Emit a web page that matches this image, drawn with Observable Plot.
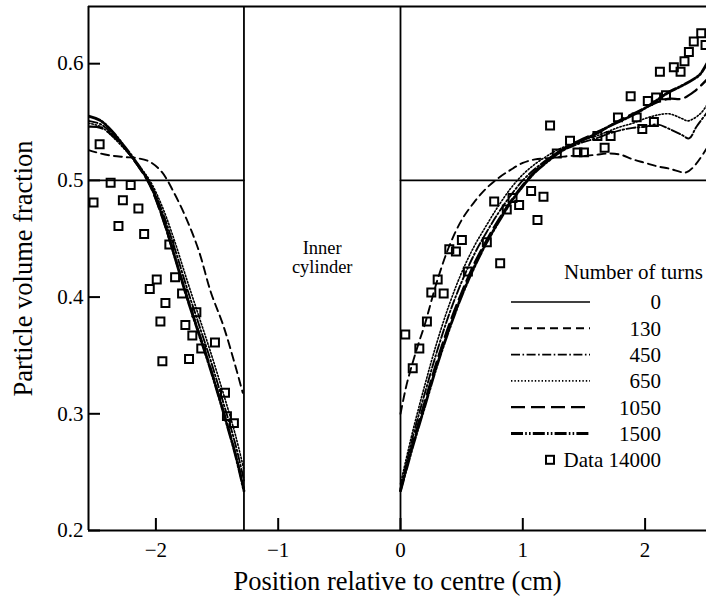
<!DOCTYPE html>
<html><head><meta charset="utf-8">
<script src="https://cdn.jsdelivr.net/npm/d3@7"></script>
<script src="https://cdn.jsdelivr.net/npm/@observablehq/plot@0.6"></script>
<style>
body{margin:0;background:#fff;}
#chart{position:relative;width:706px;height:601px;overflow:hidden;font-family:"Liberation Serif","Times New Roman",serif;}
#legend{position:absolute;left:0;top:0;pointer-events:none;}
</style></head><body><div id="chart"></div>
<script>
// ---- axes ----
const xTicks = [-2, -1, 0, 1, 2];
const xTickLabels = ["−2", "−1", "0", "1", "2"];
const yTicks = [0.2, 0.3, 0.4, 0.5, 0.6];
const yTickLabels = ["0.2", "0.3", "0.4", "0.5", "0.6"];
const xDomain = [-2.551, 2.502];
const yDomain = [0.2, 0.649];
const cylinder = [-1.28, 0];   // inner cylinder wall positions (cm)

// ---- series: number of turns (x cm, volume fraction) ----
const t0Left  = [[-2.551, 0.5], [-1.28, 0.5]];
const t0Right = [[0, 0.5], [2.502, 0.5]];

const t130Left = [[-2.55,0.526],[-2.45,0.523],[-2.35,0.521],[-2.25,0.520],[-2.15,0.519],[-2.05,0.516],[-1.95,0.507],[-1.85,0.489],[-1.75,0.467],[-1.65,0.440],[-1.55,0.404],[-1.45,0.376],[-1.35,0.341],[-1.29,0.318]];
const t130Right = [[0,0.300],[0.05,0.325],[0.1,0.344],[0.15,0.361],[0.2,0.377],[0.3,0.414],[0.4,0.444],[0.5,0.466],[0.6,0.481],[0.7,0.493],[0.8,0.502],[0.9,0.509],[1.0,0.515],[1.1,0.518],[1.2,0.519],[1.3,0.520],[1.4,0.521],[1.5,0.521],[1.6,0.522],[1.7,0.523],[1.8,0.522],[1.9,0.518],[2.0,0.515],[2.1,0.512],[2.2,0.510],[2.3,0.507],[2.34,0.507],[2.4,0.512],[2.52,0.530]];

const t450Left = [[-2.55,0.551],[-2.45,0.548],[-2.35,0.539],[-2.25,0.527],[-2.15,0.513],[-2.05,0.498],[-1.95,0.474],[-1.85,0.443],[-1.75,0.409],[-1.65,0.377],[-1.55,0.345],[-1.45,0.310],[-1.35,0.274],[-1.28,0.243]];
const t450Right = [[0,0.236],[0.1,0.280],[0.2,0.318],[0.3,0.354],[0.4,0.386],[0.5,0.413],[0.6,0.436],[0.7,0.455],[0.8,0.472],[0.9,0.487],[1.0,0.500],[1.1,0.510],[1.2,0.518],[1.3,0.525],[1.4,0.529],[1.5,0.533],[1.6,0.536],[1.7,0.540],[1.8,0.543],[1.9,0.545],[2.0,0.546],[2.1,0.548],[2.2,0.544],[2.3,0.539],[2.36,0.536],[2.42,0.546],[2.52,0.560]];

const t650Left = [[-2.55,0.549],[-2.45,0.546],[-2.35,0.537],[-2.25,0.526],[-2.15,0.514],[-2.05,0.500],[-1.95,0.478],[-1.85,0.449],[-1.75,0.416],[-1.65,0.384],[-1.55,0.352],[-1.45,0.318],[-1.35,0.282],[-1.28,0.252]];
const t650Right = [[0,0.240],[0.1,0.285],[0.2,0.325],[0.3,0.362],[0.4,0.394],[0.5,0.421],[0.6,0.443],[0.7,0.461],[0.8,0.478],[0.9,0.493],[1.0,0.505],[1.1,0.514],[1.2,0.521],[1.3,0.527],[1.4,0.531],[1.5,0.535],[1.6,0.538],[1.7,0.542],[1.8,0.546],[1.9,0.549],[2.0,0.553],[2.1,0.556],[2.2,0.557],[2.3,0.553],[2.35,0.551],[2.45,0.557],[2.52,0.567]];

const t1050Left = [[-2.55,0.546],[-2.45,0.545],[-2.35,0.538],[-2.25,0.527],[-2.15,0.513],[-2.05,0.496],[-1.95,0.469],[-1.85,0.436],[-1.75,0.402],[-1.65,0.370],[-1.55,0.338],[-1.45,0.303],[-1.35,0.266],[-1.28,0.235]];
const t1050Right = [[0,0.234],[0.1,0.275],[0.2,0.311],[0.3,0.346],[0.4,0.377],[0.5,0.404],[0.6,0.428],[0.7,0.448],[0.8,0.466],[0.9,0.482],[1.0,0.496],[1.1,0.508],[1.2,0.517],[1.3,0.525],[1.4,0.531],[1.5,0.536],[1.6,0.541],[1.7,0.546],[1.8,0.552],[1.9,0.557],[2.0,0.562],[2.1,0.567],[2.2,0.570],[2.3,0.570],[2.4,0.576],[2.52,0.588]];

const t1500Left = [[-2.55,0.555],[-2.45,0.551],[-2.35,0.541],[-2.25,0.528],[-2.15,0.514],[-2.05,0.497],[-1.95,0.470],[-1.85,0.436],[-1.75,0.401],[-1.65,0.369],[-1.55,0.337],[-1.45,0.302],[-1.35,0.265],[-1.28,0.234]];
const t1500Right = [[0,0.234],[0.1,0.272],[0.2,0.307],[0.3,0.342],[0.4,0.373],[0.5,0.401],[0.6,0.425],[0.7,0.446],[0.8,0.464],[0.9,0.481],[1.0,0.495],[1.1,0.507],[1.2,0.516],[1.3,0.524],[1.4,0.530],[1.5,0.535],[1.6,0.540],[1.7,0.546],[1.8,0.551],[1.9,0.556],[2.0,0.562],[2.1,0.569],[2.2,0.576],[2.3,0.581],[2.4,0.587],[2.45,0.591],[2.52,0.603]];

// ---- measured data after 14000 turns ----
const dataLeft = [[-2.51,0.481],[-2.46,0.531],[-2.37,0.498],[-2.306,0.461],[-2.27,0.483],[-2.206,0.496],[-2.143,0.476],[-2.096,0.454],[-2.05,0.407],[-1.993,0.415],[-1.963,0.379],[-1.947,0.345],[-1.922,0.395],[-1.89,0.445],[-1.843,0.417],[-1.786,0.403],[-1.759,0.376],[-1.729,0.347],[-1.702,0.367],[-1.669,0.387],[-1.629,0.356],[-1.517,0.361],[-1.435,0.318],[-1.419,0.298],[-1.362,0.292]];
const dataRight = [[0.039,0.368],[0.100,0.339],[0.154,0.356],[0.216,0.379],[0.252,0.404],[0.304,0.415],[0.353,0.403],[0.399,0.441],[0.453,0.439],[0.502,0.449],[0.551,0.422],[0.706,0.447],[0.766,0.482],[0.815,0.429],[0.869,0.475],[0.916,0.485],[0.970,0.479],[1.068,0.491],[1.120,0.466],[1.169,0.486],[1.223,0.547],[1.278,0.523],[1.386,0.534],[1.447,0.524],[1.500,0.524],[1.610,0.538],[1.669,0.528],[1.718,0.538],[1.778,0.554],[1.882,0.572],[1.931,0.554],[1.977,0.544],[2.022,0.568],[2.072,0.550],[2.090,0.571],[2.121,0.593],[2.171,0.573],[2.235,0.597],[2.290,0.593],[2.322,0.602],[2.358,0.610],[2.398,0.619],[2.459,0.626],[2.494,0.616]];

const legendLabels = ["0", "130", "450", "650", "1050", "1500"];
const dataLabel = "Data 14000";

// ---- styles ----
const seriesStyle = {
  "0":    {width: 1.6, dash: null},
  "130":  {width: 1.9, dash: "8,5"},
  "450":  {width: 1.9, dash: "9,2.5,1.6,2.5"},
  "650":  {width: 1.6, dash: "1.4,2"},
  "1050": {width: 2.3, dash: "14,6"},
  "1500": {width: 2.8, dash: "12,2.2,1.6,2.2,1.6,2.2"}
};
const seriesData = {
  "0": [t0Left, t0Right], "130": [t130Left, t130Right], "450": [t450Left, t450Right],
  "650": [t650Left, t650Right], "1050": [t1050Left, t1050Right], "1500": [t1500Left, t1500Right]
};
function rows(parts) {
  return parts.flatMap((p, i) => p.map(([x, y]) => ({x, y, side: i})));
}

const font = "Liberation Serif";
const marginLeft = 88, marginTop = 6, marginBottom = 71, W = 706, H = 601;
const frameW = W - marginLeft, frameH = H - marginTop - marginBottom;

const lineMarks = legendLabels.map(k => Plot.line(rows(seriesData[k]), {
  x: "x", y: "y", z: "side", stroke: "black",
  strokeWidth: seriesStyle[k].width, strokeDasharray: seriesStyle[k].dash,
  curve: k === "0" ? "linear" : "catmull-rom", clip: true
}));

const pts = [...dataLeft, ...dataRight].map(([x, y]) => ({x, y}));

const chart = Plot.plot({
  width: W, height: H,
  marginLeft, marginRight: 0, marginTop, marginBottom,
  x: {domain: xDomain, axis: null},
  y: {domain: yDomain, axis: null},
  style: {fontFamily: font, background: "white", color: "black"},
  marks: [
    // frame
    Plot.ruleY([yDomain[1]], {stroke: "black", strokeWidth: 2}),
    Plot.ruleY([yDomain[0]], {stroke: "black", strokeWidth: 2}),
    Plot.ruleX([xDomain[0]], {stroke: "black", strokeWidth: 2}),
    // inner cylinder walls
    Plot.ruleX(cylinder, {stroke: "black", strokeWidth: 1.8}),
    // ticks (inward)
    Plot.tickX(xTicks, {x: d => d, stroke: "black", strokeWidth: 2, insetTop: frameH - 12}),
    Plot.tickY(yTicks, {y: d => d, stroke: "black", strokeWidth: 2, insetRight: frameW - 12}),
    ...lineMarks,
    Plot.dot(pts, {x: "x", y: "y", symbol: "square", r: 4.5, stroke: "black", strokeWidth: 2, fill: "none", clip: true}),
    // tick labels
    Plot.text(xTicks, {x: d => d, text: (d, i) => xTickLabels[i], frameAnchor: "bottom", dy: 20, fontSize: 21, lineAnchor: "middle", fill: "black"}),
    Plot.text(yTicks, {y: d => d, text: (d, i) => yTickLabels[i], frameAnchor: "left", dx: -5, textAnchor: "end", fontSize: 21, lineAnchor: "middle", fill: "black"}),
    // axis titles
    Plot.text(["Position relative to centre (cm)"], {frameAnchor: "bottom", dy: 51, fontSize: 26.5, textAnchor: "middle", lineAnchor: "middle", fill: "black"}),
    Plot.text(["Particle volume fraction"], {frameAnchor: "left", dx: -65, rotate: -90, fontSize: 26.5, textAnchor: "middle", lineAnchor: "middle", fill: "black"}),
    // annotation
    Plot.text(["Inner\ncylinder"], {x: () => (cylinder[0] + cylinder[1]) / 2, frameAnchor: "middle", dy: -11, fontSize: 18.5, lineHeight: 1.05, textAnchor: "middle", lineAnchor: "middle", fill: "black"})
  ]
});
const root = document.getElementById("chart");
root.appendChild(chart);

// ---- legend overlay (inside the plot area) ----
const lg = d3.select(root).append("svg").attr("id", "legend").attr("width", W).attr("height", H)
  .style("font-family", font);
lg.append("text").attr("x", 564).attr("y", 272).attr("dy", "0.35em").attr("font-size", 21).text("Number of turns");
const rowY0 = 302, rowStep = 26.3;
legendLabels.forEach((k, i) => {
  const y = rowY0 + i * rowStep;
  lg.append("line").attr("x1", 511).attr("x2", 590).attr("y1", y).attr("y2", y)
    .attr("stroke", "black").attr("stroke-width", seriesStyle[k].width)
    .attr("stroke-dasharray", seriesStyle[k].dash);
  lg.append("text").attr("x", 661).attr("y", y).attr("dy", "0.35em").attr("text-anchor", "end")
    .attr("font-size", 21).text(k);
});
const yData = rowY0 + legendLabels.length * rowStep;
lg.append("rect").attr("x", 546).attr("y", yData - 4).attr("width", 8).attr("height", 8)
  .attr("fill", "none").attr("stroke", "black").attr("stroke-width", 2);
lg.append("text").attr("x", 661).attr("y", yData).attr("dy", "0.35em").attr("text-anchor", "end")
  .attr("font-size", 21).text(dataLabel);
</script></body></html>
